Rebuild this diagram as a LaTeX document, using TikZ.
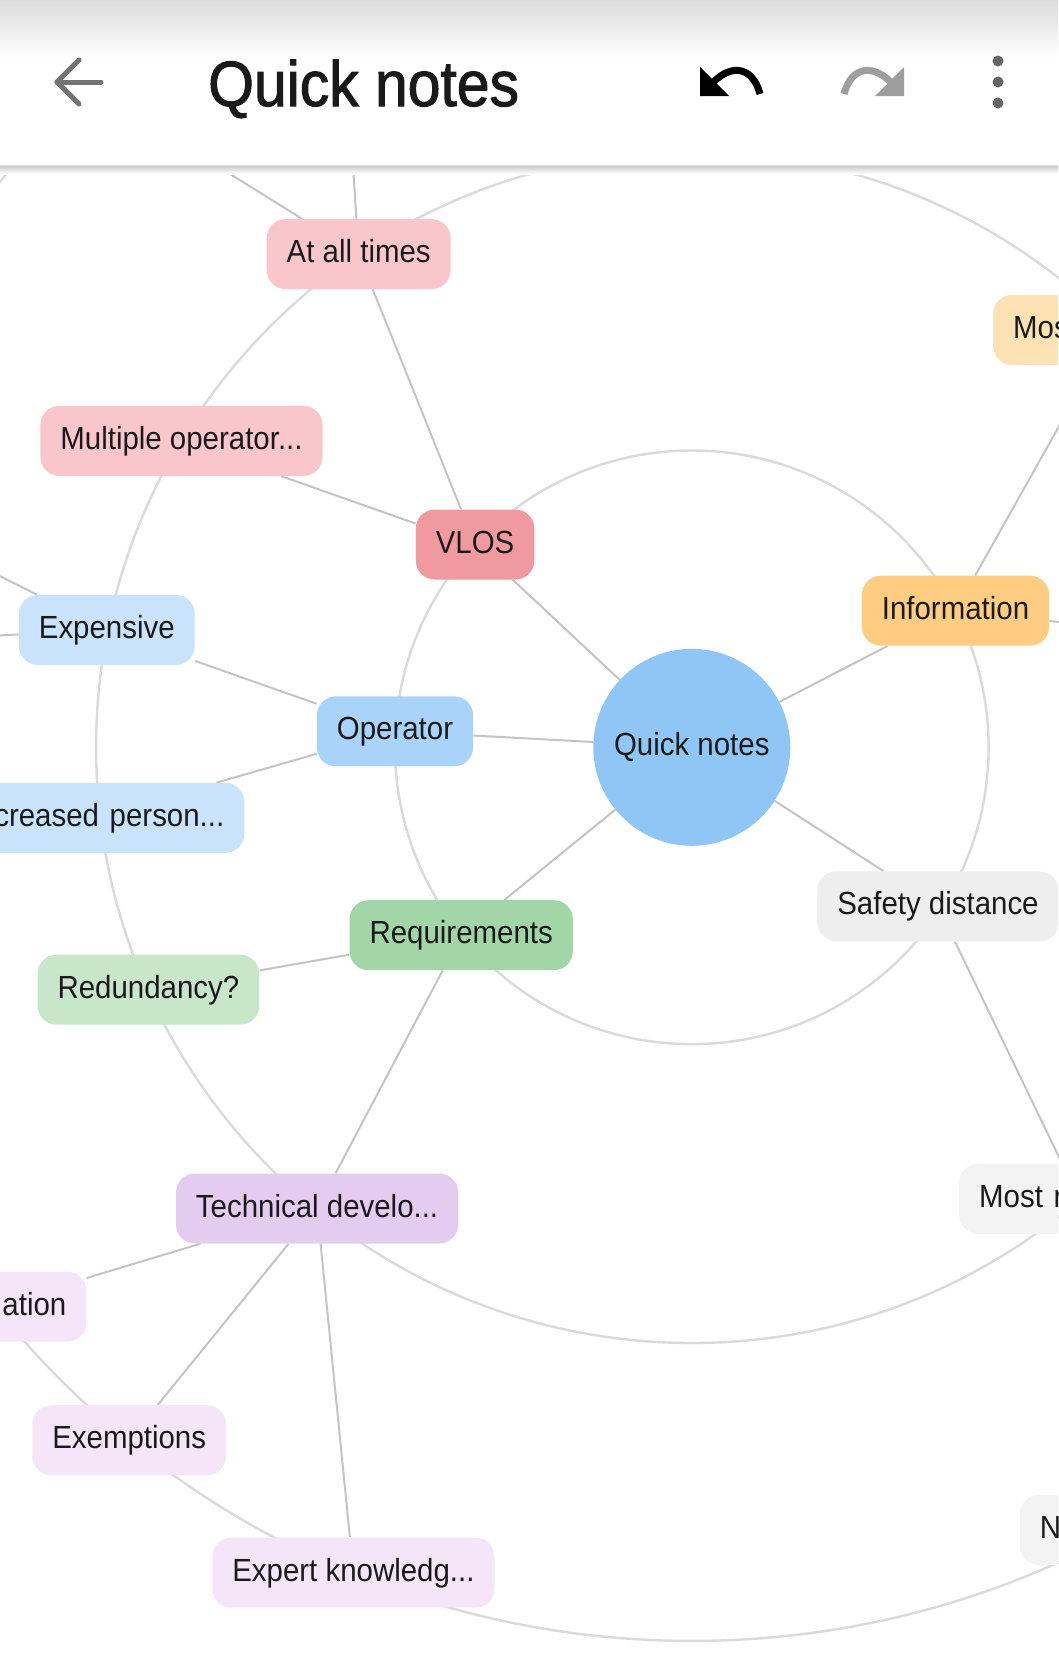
\documentclass[tikz,border=0pt]{standalone}
\usepackage{fontspec}
\setmainfont{Liberation Sans}
\newfontfamily\nodefont[FakeStretch=0.92]{Liberation Sans}
\newfontfamily\titlefam[FakeStretch=0.92,FakeBold=1.6]{Liberation Sans}
\usetikzlibrary{backgrounds}
\definecolor{txt}{HTML}{1A1A1A}
\definecolor{pinkD}{HTML}{F0999E}
\definecolor{pinkL}{HTML}{F8C6CB}
\definecolor{blueR}{HTML}{90C6F6}
\definecolor{blueD}{HTML}{A9D3F8}
\definecolor{blueL}{HTML}{C8E3FB}
\definecolor{greenD}{HTML}{A2D6A6}
\definecolor{greenL}{HTML}{C8E7CA}
\definecolor{orangeD}{HTML}{FFCD82}
\definecolor{orangeL}{HTML}{FFE2B4}
\definecolor{grayD}{HTML}{EEEEEE}
\definecolor{grayL}{HTML}{F3F3F3}
\definecolor{purpleD}{HTML}{E4CBF0}
\definecolor{purpleL}{HTML}{F4E6F8}
\definecolor{linkc}{HTML}{C4C4C4}
\definecolor{ringc}{HTML}{DADADA}
\newcommand\nf{\nodefont\fontsize{32}{38}\selectfont}
\tikzset{
  mm/.style={rounded corners=19pt, minimum height=70pt, inner xsep=20pt, inner ysep=0pt,
    text height=24pt, text depth=7pt, text=txt, font=\nf},
  link/.style={draw=linkc, line width=2pt},
  orbit/.style={draw=ringc, line width=2.4pt},
  icon/.style={line width=5pt},
}
\begin{document}
\begin{tikzpicture}[x=1pt,y=-1pt]
\useasboundingbox (0,0) rectangle (1058,1674);
\begin{scope}
\clip (0,0) rectangle (1058,1674);
% level 0
\node[circle, fill=blueR, minimum size=197pt, inner sep=0pt, text=txt, font=\nf,
      text height=24pt, text depth=7pt] (root) at (691.8,747.3) {Quick notes};
% level 1
\node[mm, fill=pinkD] (vlos) at (475.1,544.5) {VLOS};
\node[mm, fill=blueD] (oper) at (395.0,731.3) {Operator};
\node[mm, fill=greenD] (req) at (461.2,935.2) {Requirements};
\node[mm, fill=orangeD] (info) at (955.5,610.7) {Information};
\node[mm, fill=grayD] (safe) at (938.0,906.4) {Safety distance};
% level 2
\node[mm, fill=pinkL] (atall) at (358.7,254.1) {At all times};
\node[mm, fill=pinkL] (multi) at (181.5,440.9) {Multiple operator...};
\node[mm, fill=blueL] (expens) at (106.8,629.9) {Expensive};
\node[mm, fill=blueL, anchor=east, text width=260pt, align=right] (creas) at (244.5,817.8) {creased person...};
\node[mm, fill=greenL] (redund) at (148.4,989.7) {Redundancy?};
\node[mm, fill=purpleD] (tech) at (317.1,1208.5) {Technical develo...};
\node[mm, fill=orangeL, anchor=west, text width=200pt, align=left] (mos) at (992.9,329.9) {Mos};
\node[mm, fill=grayL, anchor=west, text width=200pt, align=left] (mostr) at (959.0,1198.9) {Most r};
% level 3
\node[mm, fill=purpleL, anchor=east, text width=150pt, align=right] (ation) at (86.5,1306.7) {ation};
\node[mm, fill=purpleL] (exempt) at (129.2,1440.2) {Exemptions};
\node[mm, fill=purpleL] (expert) at (353.4,1572.6) {Expert knowledg...};
\node[mm, fill=grayL, anchor=west, text width=200pt, align=left] (nnode) at (1019.6,1529.9) {N};
% off-screen ends
\coordinate (up1) at (145,121);
\coordinate (up2) at (350,120);
\coordinate (expl1) at (-50,551);
\coordinate (expl2) at (-50,638);
\coordinate (infor) at (1150,632);
\end{scope}

\begin{scope}[on background layer]
\fill[white] (0,0) rectangle (1058,1674);
\draw[orbit] (root.center) circle[radius=296.8];
\draw[orbit] (root.center) circle[radius=595.7];
\draw[orbit] (root.center) circle[radius=893.6];
\draw[link] (root) -- (vlos);
\draw[link] (root) -- (oper);
\draw[link] (root) -- (req);
\draw[link] (root) -- (info);
\draw[link] (root) -- (safe);
\draw[link] (vlos) -- (atall);
\draw[link] (vlos) -- (multi);
\draw[link] (atall) -- (up1);
\draw[link] (atall) -- (up2);
\draw[link] (oper) -- (expens);
\draw[link] (oper) -- (creas);
\draw[link] (expens) -- (expl1);
\draw[link] (expens) -- (expl2);
\draw[link] (req) -- (redund);
\draw[link] (req) -- (tech);
\draw[link] (tech) -- (ation);
\draw[link] (tech) -- (exempt);
\draw[link] (tech) -- (expert);
\draw[link] (info) -- (mos);
\draw[link] (info) -- (infor);
\draw[link] (safe) -- (mostr);
\end{scope}

% header bar
\fill[white] (0,0) rectangle (1058,165);
\shade[top color=black!14, bottom color=white] (0,0) rectangle (1058,58);
\shade[top color=black!22, bottom color=white] (0,165) rectangle (1058,174);
\draw[black!12, line width=1pt] (0,165) -- (1058,165);
% back arrow
\draw[black!55, icon, line cap=round, line join=round] (101,82) -- (57,82);
\draw[black!55, icon, line cap=round, line join=round] (79,60) -- (57,82) -- (79,104);
% title
\node[anchor=base west, inner sep=0pt, text=txt, font=\titlefam\fontsize{64}{70}\selectfont] (title) at (208,106) {Quick notes};
% undo
\fill[black] (700,67) -- (700,96) -- (729,96) -- cycle;
\draw[black, line width=7pt] (710,86) .. controls (728,64) and (752,64) .. (760,94);
% redo
\fill[black!38] (904,67) -- (904,96) -- (875,96) -- cycle;
\draw[black!38, line width=7pt] (894,86) .. controls (876,64) and (852,64) .. (844,94);
% menu dots
\fill[black!60] (998,61) circle[radius=5.5];
\fill[black!60] (998,82) circle[radius=5.5];
\fill[black!60] (998,103) circle[radius=5.5];
\end{tikzpicture}
\end{document}
